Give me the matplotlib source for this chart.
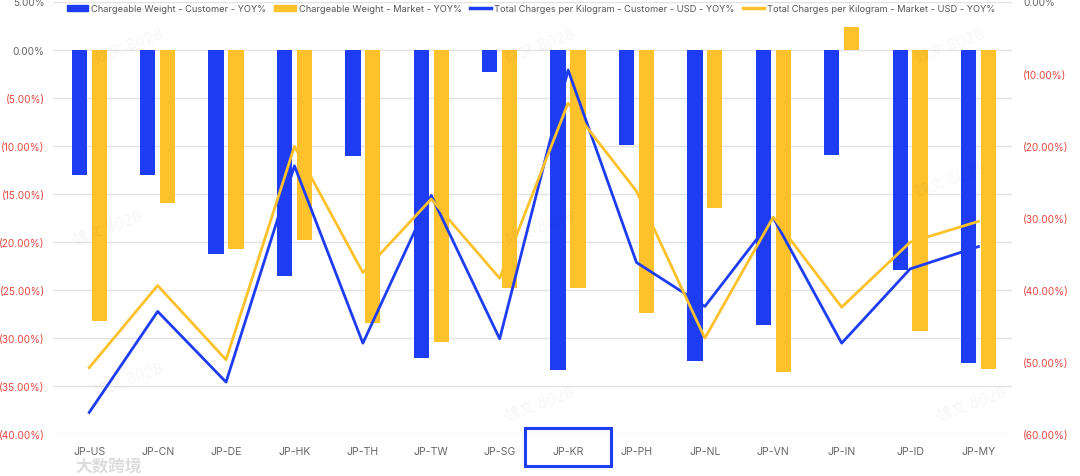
import matplotlib
matplotlib.use("Agg")
import matplotlib.pyplot as plt
import matplotlib.patches as mpatches
import matplotlib.transforms as mtransforms
from matplotlib.lines import Line2D
import numpy as np

plt.rcParams['font.family'] = ['Inter', 'Noto Sans CJK SC', 'DejaVu Sans']

categories = ["JP-US", "JP-CN", "JP-DE", "JP-HK", "JP-TH", "JP-TW", "JP-SG",
              "JP-KR", "JP-PH", "JP-NL", "JP-VN", "JP-IN", "JP-ID", "JP-MY"]
cw_customer = [-13.0, -13.0, -21.3, -23.6, -11.1, -32.1, -2.3,
               -33.3, -9.9, -32.4, -28.7, -11.0, -22.9, -32.6]
cw_market = [-28.2, -16.0, -20.8, -19.8, -28.4, -30.4, -24.8,
             -24.8, -27.4, -16.5, -33.5, 2.3, -29.3, -33.2]
tc_customer = [-57.0, -43.0, -52.8, -22.8, -47.4, -26.9, -46.8,
               -9.5, -36.2, -42.3, -30.0, -47.4, -37.1, -34.0]
tc_market = [-50.8, -39.4, -49.7, -20.1, -37.6, -27.4, -38.4,
             -14.1, -26.3, -46.7, -29.9, -42.4, -33.4, -30.5]
left_ticks = [5, 0, -5, -10, -15, -20, -25, -30, -35, -40]
right_ticks = [0, -10, -20, -30, -40, -50, -60]
legend_labels = ["Chargeable Weight - Customer - YOY%",
                 "Chargeable Weight - Market - YOY%",
                 "Total Charges per Kilogram - Customer - USD - YOY%",
                 "Total Charges per Kilogram - Market - USD - YOY%"]
highlight = "JP-KR"

BLUE = "#1e3df2"
YELLOW = "#fdc12b"
RED = "#e8473f"
GREY = "#666666"

def fmt(v):
    return f"{v:.2f}%" if v >= 0 else f"({abs(v):.2f}%)"

fig = plt.figure(figsize=(10.8, 4.77), dpi=100)
ax = fig.add_axes([53/1080, 1 - 435/477, (1012-53)/1080, (435-2.5)/477])
ax2 = ax.twinx()

x = np.arange(len(categories))
w = 0.224
off = 0.145
ax.bar(x - off, cw_customer, width=w, color=BLUE, zorder=2)
ax.bar(x + off, cw_market, width=w, color=YELLOW, zorder=2)
ax2.plot(x, tc_customer, color=BLUE, lw=2.0, zorder=3)
ax2.plot(x, tc_market, color=YELLOW, lw=2.0, zorder=3)

ax.set_xlim(-0.53, 13.49)
ax.set_ylim(-40, 5)
ax2.set_ylim(-60, 0)
ax.set_yticks(left_ticks)
ax.set_yticklabels([fmt(v) for v in left_ticks])
ax2.set_yticks(right_ticks)
ax2.set_yticklabels([fmt(v) for v in right_ticks])
for lbl, v in zip(ax.get_yticklabels(), left_ticks):
    lbl.set_color(GREY if v >= 0 else RED)
for lbl, v in zip(ax2.get_yticklabels(), right_ticks):
    lbl.set_color(GREY if v >= 0 else RED)
ax.set_xticks(x)
ax.set_xticklabels(categories, color=GREY, fontsize=7.6)
ax.tick_params(axis='y', length=0, labelsize=7.3, pad=6)
ax2.tick_params(axis='y', length=0, labelsize=7.3, pad=8)
ax.tick_params(axis='x', length=0, pad=9)
ax.grid(axis='y', color="#e3e3e3", lw=1.0, zorder=0)
ax.set_axisbelow(True)
for a in (ax, ax2):
    for s in a.spines.values():
        s.set_visible(False)

# highlight box around the KR label
i = categories.index(highlight)
trans = mtransforms.blended_transform_factory(ax.transData, ax.transAxes)
ax.add_patch(mpatches.Rectangle((i - 0.63, -0.075), 1.26, 0.09, transform=trans,
                                fill=False, edgecolor=BLUE, lw=2.2, clip_on=False, zorder=5))

# legend
handles = [mpatches.Patch(color=BLUE), mpatches.Patch(color=YELLOW),
           Line2D([], [], color=BLUE, lw=2.5), Line2D([], [], color=YELLOW, lw=2.5)]
fig.legend(handles, legend_labels, loc="center", bbox_to_anchor=(531/1080, 1 - 10/477),
           ncol=4, frameon=False, fontsize=6.7, handlelength=2.3, handleheight=0.6,
           columnspacing=0.9, handletextpad=0.3, labelcolor="#555555",
           borderpad=0.1)

# faint watermarks
for (wx, wy) in [(0.12, 0.2), (0.5, 0.15), (0.9, 0.15), (0.1, 0.52), (0.5, 0.52),
                 (0.88, 0.62), (0.12, 0.9), (0.5, 0.9), (0.88, 0.9)]:
    fig.text(wx, wy, "魏文 8028", fontsize=11, color="#000000", alpha=0.04,
             rotation=20, ha="center", va="center")
fig.text(0.07, 1 - 466/477, "大数跨境", fontsize=12, color="#dddddd",
         ha="left", va="center", fontweight="bold")

fig.savefig("out.png", dpi=100)
